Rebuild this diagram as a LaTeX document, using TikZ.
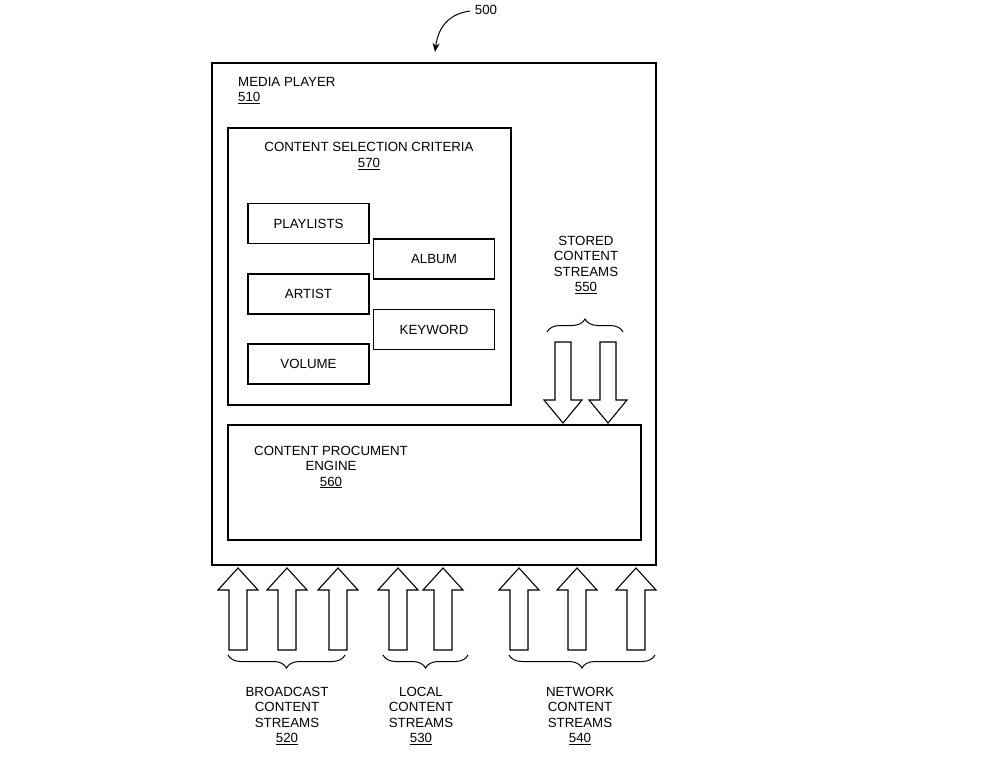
\documentclass[tikz,border=0pt]{standalone}
\usepackage{fontspec}
\setmainfont{Liberation Sans}
\usetikzlibrary{decorations.pathreplacing,arrows.meta}
\begin{document}
\begin{tikzpicture}[x=1pt,y=-1pt,
  box/.style={draw,line width=1.1pt},
  lbl/.style={font=\fontsize{13.3}{15.5}\selectfont,align=center,inner sep=0pt},
  br/.style={decorate,decoration={brace,amplitude=13pt,aspect=0.5},line width=1pt},
  ha/.style={draw,line width=1.1pt,fill=white},
  upar/.pic={\path[ha] (-9,82)--(-9,22)--(-20,22)--(0,0)--(20,22)--(9,22)--(9,82)--cycle;},
  dnar/.pic={\path[ha] (-8,0)--(-8,58)--(-19,58)--(0,81)--(19,58)--(8,58)--(8,0)--cycle;}]
\useasboundingbox (0,0) rectangle (984,766);
\node[lbl] (n500) at (486,10) {500};
\draw[line width=1pt,-{Stealth[length=9pt,width=7pt]}] (470,11) .. controls (448,14) and (438,28) .. (435,52);
\node[box,minimum width=444pt,minimum height=502pt,inner sep=0pt] (mp) at (434,314) {};
\node[lbl,align=left,anchor=north west] (mpl) at (238,77) {MEDIA PLAYER\\\underline{510}};
\node[box,minimum width=283pt,minimum height=277pt,inner sep=0pt] (csc) at (369.5,266.5) {};
\node[lbl] (cscl) at (369,156) {CONTENT SELECTION CRITERIA\\\underline{570}};
\tikzset{sb/.style={box,minimum width=121pt,minimum height=40pt,lbl}}
\node[sb] (pl) at (308.5,223.5) {PLAYLISTS};
\node[sb] (al) at (434,259) {ALBUM};
\node[sb] (ar) at (308.5,294) {ARTIST};
\node[sb] (kw) at (434,329.5) {KEYWORD};
\node[sb] (vo) at (308.5,364) {VOLUME};
\node[box,minimum width=413pt,minimum height=115pt,inner sep=0pt] (eng) at (434.5,482.5) {};
\node[lbl] (engl) at (331,467) {CONTENT PROCUMENT\\ENGINE\\\underline{560}};
\node[lbl] (scs) at (586,265) {STORED\\CONTENT\\STREAMS\\\underline{550}};
\draw[br] (547,332) -- (623,332);
\pic at (563,342) {dnar};
\pic at (608,342) {dnar};
\foreach \x in {238,287,338,398,443,519,577,636} \pic at (\x,568) {upar};
\draw[br] (345,655) -- (228,655);
\draw[br] (468,655) -- (383,655);
\draw[br] (655,655) -- (509,655);
\node[lbl] (bcs) at (287,716) {BROADCAST\\CONTENT\\STREAMS\\\underline{520}};
\node[lbl] (lcs) at (421,716) {LOCAL\\CONTENT\\STREAMS\\\underline{530}};
\node[lbl] (ncs) at (580,716) {NETWORK\\CONTENT\\STREAMS\\\underline{540}};
\end{tikzpicture}
\end{document}
